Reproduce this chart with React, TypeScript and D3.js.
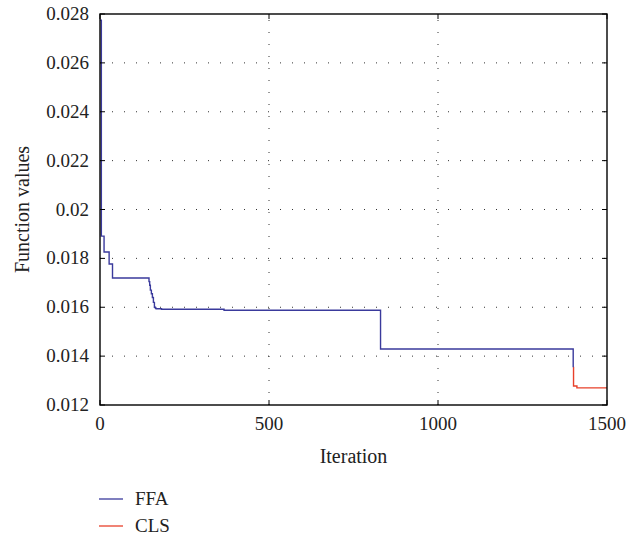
import * as d3 from 'd3';

// FFA best-so-far values (iteration, function value), step-after
const FFA_ITER = [0, 4, 12, 27, 37, 145, 147, 149, 152, 155, 158, 161, 164, 166, 182, 367, 830, 1400];
const FFA_VAL = [0.02775, 0.01891, 0.01826, 0.01777, 0.0172, 0.01705, 0.0169, 0.0167, 0.01655, 0.0164, 0.0162, 0.0160, 0.01596, 0.01594, 0.01592, 0.01588, 0.01429, 0.01354];

// CLS refinement tail
const CLS_ITER = [1400, 1401, 1411, 1500];
const CLS_VAL = [0.01354, 0.01278, 0.0127, 0.0127];

const X_TICKS = [0, 500, 1000, 1500];
const Y_TICKS = [0.012, 0.014, 0.016, 0.018, 0.02, 0.022, 0.024, 0.026, 0.028];

const LEGEND = [
  { name: 'FFA', color: '#3a3a9c' },
  { name: 'CLS', color: '#e8402a' },
];

const W = 629;
const H = 537;
const margin = { top: 14, right: 22, bottom: 132, left: 100 };
const FONT = "'Liberation Serif', 'DejaVu Serif', serif";

export default function App() {
  const x = d3.scaleLinear().domain([0, 1500]).range([margin.left, W - margin.right]);
  const y = d3.scaleLinear().domain([0.012, 0.028]).range([H - margin.bottom, margin.top]);

  const line = d3
    .line<[number, number]>()
    .x((d) => x(d[0]))
    .y((d) => y(d[1]))
    .curve(d3.curveStepAfter);

  const ffa = FFA_ITER.map((it, i) => [it, FFA_VAL[i]] as [number, number]);
  const cls = CLS_ITER.map((it, i) => [it, CLS_VAL[i]] as [number, number]);

  const [x0, x1] = x.range();
  const [y0, y1] = y.range();
  const tickLen = 5;

  return (
    <svg
      width={W}
      height={H}
      style={{ position: 'absolute', left: 0, top: 0, background: '#fff', fontFamily: FONT }}
    >
      {/* grid */}
      <g stroke="#333" strokeWidth={1} strokeDasharray="1,11">
        {X_TICKS.filter((t) => t > 0 && t < 1500).map((t) => (
          <line key={'gx' + t} x1={x(t)} x2={x(t)} y1={y0} y2={y1} />
        ))}
        {Y_TICKS.filter((t) => t > 0.012 && t < 0.028).map((t) => (
          <line key={'gy' + t} x1={x0} x2={x1} y1={y(t)} y2={y(t)} />
        ))}
      </g>

      {/* series */}
      <path d={line(cls) || ''} fill="none" stroke={LEGEND[1].color} strokeWidth={1.4} />
      <path d={line(ffa) || ''} fill="none" stroke={LEGEND[0].color} strokeWidth={1.4} />

      {/* ticks, inward on all sides */}
      <g stroke="#000" strokeWidth={1}>
        {X_TICKS.map((t) => (
          <g key={'tx' + t}>
            <line x1={x(t)} x2={x(t)} y1={y0} y2={y0 - tickLen} />
            <line x1={x(t)} x2={x(t)} y1={y1} y2={y1 + tickLen} />
          </g>
        ))}
        {Y_TICKS.map((t) => (
          <g key={'ty' + t}>
            <line x1={x0} x2={x0 + tickLen} y1={y(t)} y2={y(t)} />
            <line x1={x1} x2={x1 - tickLen} y1={y(t)} y2={y(t)} />
          </g>
        ))}
      </g>

      {/* frame */}
      <rect x={x0} y={y1} width={x1 - x0} height={y0 - y1} fill="none" stroke="#000" strokeWidth={1.4} />

      {/* tick labels */}
      <g fontSize={19} fill="#222">
        {X_TICKS.map((t) => (
          <text key={'lx' + t} x={x(t)} y={y0 + 25} textAnchor="middle">
            {t}
          </text>
        ))}
        {Y_TICKS.map((t) => (
          <text key={'ly' + t} x={x0 - 11} y={y(t) + 6} textAnchor="end">
            {d3.format('')(t)}
          </text>
        ))}
      </g>

      {/* axis titles */}
      <text x={(x0 + x1) / 2} y={y0 + 58} textAnchor="middle" fontSize={20} fill="#222">
        Iteration
      </text>
      <text
        transform={`translate(29,${(y0 + y1) / 2}) rotate(-90)`}
        textAnchor="middle"
        fontSize={20}
        fill="#222"
      >
        Function values
      </text>

      {/* legend */}
      {LEGEND.map((s, i) => (
        <g key={s.name} transform={`translate(99,${499 + i * 27})`}>
          <line x1={0} x2={24} y1={0} y2={0} stroke={s.color} strokeWidth={1.3} />
          <text x={36} y={6} fontSize={19} fill="#222">
            {s.name}
          </text>
        </g>
      ))}
    </svg>
  );
}
